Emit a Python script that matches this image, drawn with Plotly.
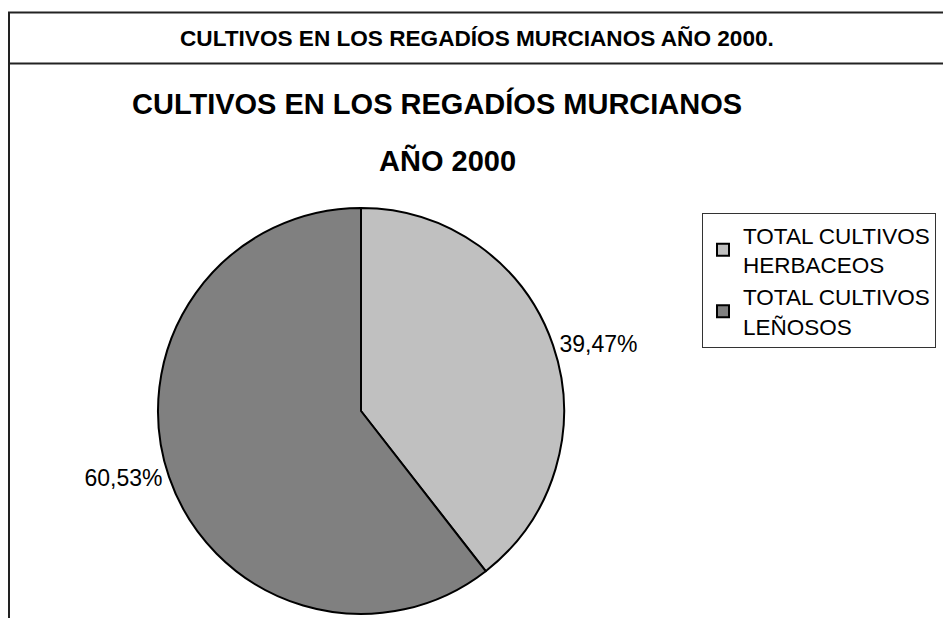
import plotly.graph_objects as go

# page is 951x618; the HTML body has an 8px margin, so the figure is 943x610
OFF = 8
W, H = 951 - OFF, 618 - OFF

categories = ["TOTAL CULTIVOS<br>HERBACEOS", "TOTAL CULTIVOS<br>LEÑOSOS"]
values = [39.47, 60.53]
colors = ["#c0c0c0", "#808080"]

header_title = "CULTIVOS EN LOS REGADÍOS MURCIANOS AÑO 2000."
chart_title = ["CULTIVOS EN LOS REGADÍOS MURCIANOS", "AÑO 2000"]


def px(x):
    return (x - OFF) / W


def py(y):
    return 1 - (y - OFF) / H


fig = go.Figure()
fig.add_trace(go.Pie(
    labels=categories,
    values=values,
    sort=False,
    direction="clockwise",
    rotation=0,
    marker=dict(colors=colors, line=dict(color="black", width=2)),
    textinfo="percent",
    texttemplate="%{percent:.2%}",
    textposition="outside",
    outsidetextfont=dict(family="Liberation Sans, Arial", size=23, color="black"),
    hoverinfo="label+percent",
    domain=dict(x=[px(158), px(564)], y=[py(614), py(208)]),
))

line_col = "#222222"
shapes = [
    dict(type="line", xref="paper", yref="paper", x0=px(8), x1=1, y0=py(12.5), y1=py(12.5),
         line=dict(color=line_col, width=2)),
    dict(type="line", xref="paper", yref="paper", x0=px(8), x1=1, y0=py(63.5), y1=py(63.5),
         line=dict(color=line_col, width=2)),
    dict(type="line", xref="paper", yref="paper", x0=px(9), x1=px(9), y0=py(12), y1=0,
         line=dict(color=line_col, width=2)),
]

annotations = [
    dict(text="<b>" + header_title + "</b>", x=px(477), y=py(38), xref="paper", yref="paper",
         showarrow=False, xanchor="center", yanchor="middle",
         font=dict(family="Liberation Sans, Arial", size=22.6, color="black")),
    dict(text="<b>" + chart_title[0] + "</b>", x=px(437), y=py(103), xref="paper", yref="paper",
         showarrow=False, xanchor="center", yanchor="middle",
         font=dict(family="Liberation Sans, Arial", size=29, color="black")),
    dict(text="<b>" + chart_title[1] + "</b>", x=px(447), y=py(160), xref="paper", yref="paper",
         showarrow=False, xanchor="center", yanchor="middle",
         font=dict(family="Liberation Sans, Arial", size=29, color="black")),
]

fig.update_layout(
    width=W, height=H,
    margin=dict(l=0, r=0, t=0, b=0),
    paper_bgcolor="white",
    plot_bgcolor="white",
    separators=",.",
    shapes=shapes,
    annotations=annotations,
    showlegend=True,
    legend=dict(
        x=px(702), y=py(213), xanchor="left", yanchor="top",
        bordercolor="#333333", borderwidth=1, bgcolor="white",
        font=dict(family="Liberation Sans, Arial", size=22.5, color="black"),
        itemsizing="constant",
        tracegroupgap=0,
    ),
)

fig.write_html("out.html")
